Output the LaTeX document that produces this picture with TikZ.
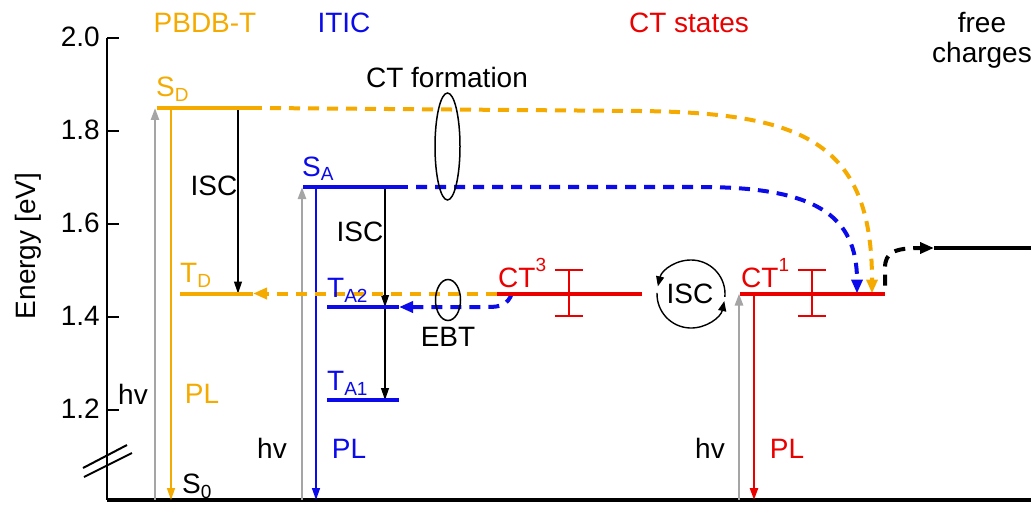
\documentclass[tikz,border=0pt]{standalone}
\usepackage{fontspec}
\setmainfont{Liberation Sans}
\usetikzlibrary{arrows.meta}
\definecolor{orng}{RGB}{245,170,0}
\definecolor{blu}{RGB}{10,10,235}
\definecolor{rd}{RGB}{235,0,0}
\definecolor{gry}{RGB}{165,165,165}
\newcommand{\lsub}[1]{\raisebox{-5pt}{\fontsize{19}{19}\selectfont #1}}
\newcommand{\lsup}[1]{\raisebox{16pt}{\fontsize{19}{19}\selectfont #1}}
\begin{document}
\begin{tikzpicture}[x=1pt,y=-1pt,
  lbl/.style={inner sep=0pt, font=\fontsize{28}{32}\selectfont},
  level/.style={line width=4pt},
  excite/.style={gry, line width=2.5pt, -{Triangle[length=12pt,width=8pt]}},
  emit/.style={line width=1.5pt, -{Triangle[length=12pt,width=8pt]}},
  iscarrow/.style={black, line width=1.2pt, -{Triangle[length=12pt,width=8pt]}},
  circarrow/.style={black, line width=1.4pt, -{Triangle[length=10pt,width=8pt]}},
  transfer/.style={line width=4pt, dash pattern=on 11pt off 8pt, -{Triangle[length=14pt,width=11pt]}},
  errbar/.style={rd, line width=2pt},
  loop/.style={black, line width=1.5pt},
]
\useasboundingbox (0,0) rectangle (1035,505);

% axes
\coordinate (ytop) at (107,38.3);
\coordinate (origin) at (107,500);
\coordinate (xend) at (1031,500);
\draw[line width=2pt] (ytop) -- (origin);
\draw[line width=4.5pt] (origin) -- (xend);
\foreach \y/\t [count=\i] in {38.3/2.0, 131.1/1.8, 223.9/1.6, 316.7/1.4, 409.5/1.2}{
  \coordinate (tk\i) at (107,\y);
  \draw[line width=2pt] (tk\i) -- ++(12,0);
  \node[lbl, anchor=base east] (tl\i) at (100,\y+8.5) {\t};
}
\coordinate (br1a) at (83,468); \coordinate (br1b) at (127,445);
\coordinate (br2a) at (84,477); \coordinate (br2b) at (132,453);
\draw[line width=2pt] (br1a) -- (br1b);
\draw[line width=2pt] (br2a) -- (br2b);
\node[lbl, rotate=90, anchor=base] (ylab) at (35,246) {Energy [eV]};

% headings
\node[lbl, orng, anchor=base] (hpb) at (205,33) {PBDB-T};
\node[lbl, blu, anchor=base] (hit) at (344,33) {ITIC};
\node[lbl, rd, anchor=base] (hct) at (689,33) {CT states};
\node[lbl, anchor=base] (hfr1) at (982,33) {free};
\node[lbl, anchor=base] (hfr2) at (982,63) {charges};

% level coordinates
\coordinate (SDl) at (157,108);   \coordinate (SDr) at (262,108);
\coordinate (TDl) at (180,293.5); \coordinate (TDr) at (253,293.5);
\coordinate (SAl) at (303,187);   \coordinate (SAr) at (408,187);
\coordinate (TA2l) at (327,307);  \coordinate (TA2r) at (399,307);
\coordinate (TA1l) at (327,400);  \coordinate (TA1r) at (399,400);
\coordinate (CT3l) at (497,293.5); \coordinate (CT3r) at (642,293.5);
\coordinate (CT1l) at (740,293.5); \coordinate (CT1r) at (885,293.5);
\coordinate (FCl) at (934,248);   \coordinate (FCr) at (1031,248);

% excitation / emission
\coordinate (g1) at (155,500); \coordinate (e1) at (155,108);
\coordinate (p1a) at (171,108); \coordinate (p1b) at (171,500);
\coordinate (g2) at (302,500); \coordinate (e2) at (302,187);
\coordinate (p2a) at (316,187); \coordinate (p2b) at (316,500);
\coordinate (g3) at (739,500); \coordinate (e3) at (739,293.5);
\coordinate (p3a) at (754,293.5); \coordinate (p3b) at (754,500);
\draw[excite] (g1) -- (e1);
\draw[excite] (g2) -- (e2);
\draw[excite] (g3) -- (e3);
\draw[emit, orng] (p1a) -- (p1b);
\draw[emit, blu] (p2a) -- (p2b);
\draw[emit, rd, line width=2.5pt] (p3a) -- (p3b);

% ISC arrows
\coordinate (i1a) at (238,108); \coordinate (i1b) at (238,293.5);
\coordinate (i2a) at (385,187); \coordinate (i2b) at (385,307);
\coordinate (i2c) at (385,400);
\draw[iscarrow] (i1a) -- (i1b);
\draw[iscarrow] (i2a) -- (i2b);
\draw[iscarrow] (i2b) -- (i2c);

% dashed transfers
\draw[transfer, orng, dash phase=11pt] (SDr) -- (640,111) .. controls (800,113) and (872,140) .. (872,293.5);
\draw[transfer, blu, dash phase=11pt] (SAr) -- (700,187) .. controls (815,187) and (857,215) .. (857,293.5);
\draw[transfer, orng] (CT3l) -- (TDr);
\coordinate (ebtstart) at (512,293);
\draw[transfer, blu] (ebtstart) .. controls (508,305) and (500,307) .. (488,307) -- (TA2r);
\draw[transfer, black, dash phase=11pt] (CT1r) -- (885,268) .. controls (885,252) and (895,248) .. (FCl);

% levels
\draw[level, orng] (SDl) -- (SDr);
\draw[level, orng] (TDl) -- (TDr);
\draw[level, blu] (SAl) -- (SAr);
\draw[level, blu] (TA2l) -- (TA2r);
\draw[level, blu] (TA1l) -- (TA1r);
\draw[level, rd] (CT3l) -- (CT3r);
\draw[level, rd] (CT1l) -- (CT1r);
\draw[level, black] (FCl) -- (FCr);

% error bars
\draw[errbar] (569,270) -- (569,316) (555,270) -- (583,270) (555,316) -- (583,316);
\draw[errbar] (812,270) -- (812,316) (798,270) -- (826,270) (798,316) -- (826,316);

% ellipses
\draw[loop] (447.5,146.5) ellipse [x radius=12.5pt, y radius=53.5pt];
\draw[loop] (448,300) ellipse [x radius=12.5pt, y radius=20.5pt];

% ISC cycle
\coordinate (iscc) at (691,294);
\draw[circarrow] ([shift={(-5:34pt)}]iscc) arc[start angle=-5, end angle=167, radius=34pt];
\draw[circarrow] ([shift={(178:34pt)}]iscc) arc[start angle=178, end angle=348, radius=34pt];
\node[lbl, anchor=base] (isc3) at (690,303) {ISC};

% level labels
\node[lbl, orng, anchor=base west] (lSD) at (156,97) {S\lsub{D}};
\node[lbl, orng, anchor=base west] (lTD) at (180,282) {T\lsub{D}};
\node[lbl, anchor=base west] (lS0) at (182,493) {S\lsub{0}};
\node[lbl, blu, anchor=base west] (lSA) at (302,176) {S\lsub{A}};
\node[lbl, blu, anchor=base west] (lTA2) at (327,297) {T\lsub{A2}};
\node[lbl, blu, anchor=base west] (lTA1) at (327,390) {T\lsub{A1}};
\node[lbl, rd, anchor=base west] (lCT3) at (498,287) {CT\lsup{3}};
\node[lbl, rd, anchor=base west] (lCT1) at (741,287) {CT\lsup{1}};

% process labels
\node[lbl, anchor=base] (isc1) at (214,195) {ISC};
\node[lbl, anchor=base] (isc2) at (360,241) {ISC};
\node[lbl, anchor=base] (ctf) at (447,88) {CT formation};
\node[lbl, anchor=base] (ebt) at (448,346) {EBT};
\node[lbl, anchor=base] (hv1) at (133,404) {hv};
\node[lbl, orng, anchor=base] (pl1) at (202,403) {PL};
\node[lbl, anchor=base] (hv2) at (272,458) {hv};
\node[lbl, blu, anchor=base] (pl2) at (349,458) {PL};
\node[lbl, anchor=base] (hv3) at (710,458) {hv};
\node[lbl, rd, anchor=base] (pl3) at (787,458) {PL};
\end{tikzpicture}
\end{document}
